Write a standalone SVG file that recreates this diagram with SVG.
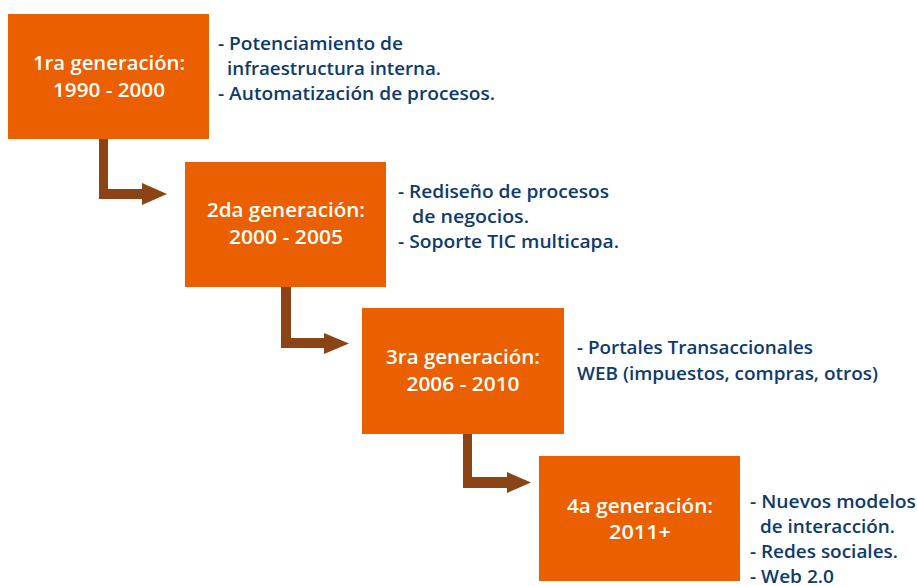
<svg xmlns="http://www.w3.org/2000/svg" width="917" height="586" viewBox="0 0 917 586">
<style>
.box{fill:#EA6000}
.bt{fill:#FFFFFF;font-family:"Open Sans","Liberation Sans",sans-serif;font-weight:600;font-size:19.5px;text-anchor:middle}
.dt{fill:#0E3A6E;font-family:"Open Sans","Liberation Sans",sans-serif;font-weight:600;font-size:18.5px}
.arr{fill:#8A4416}
</style>
<rect width="917" height="586" fill="#FFFFFF"/>
<g id="connectors">
<path class="arr" d="M99,139 H108 V189 H142 V183 L167,194 L142,205 V199 H99 Z"/>
<path class="arr" d="M281,286 H291 V338 H324 V333 L349,343.5 L324,354 V348 H281 Z"/>
<path class="arr" d="M463,433 H472 V477 H507 V472 L531,482.5 L507,493 V488 H463 Z"/>
</g>
<g id="node1">
<rect class="box" x="8" y="14" width="201" height="125"/>
<text class="bt" x="109" y="70" textLength="152" lengthAdjust="spacingAndGlyphs">1ra generación:</text>
<text class="bt" x="109" y="97" textLength="112" lengthAdjust="spacingAndGlyphs">1990 - 2000</text>
<text class="dt" x="218" y="50" textLength="185" lengthAdjust="spacingAndGlyphs">- Potenciamiento de</text>
<text class="dt" x="227" y="75" textLength="214" lengthAdjust="spacingAndGlyphs">infraestructura interna.</text>
<text class="dt" x="218" y="100" textLength="277" lengthAdjust="spacingAndGlyphs">- Automatización de procesos.</text>
</g>
<g id="node2">
<rect class="box" x="185" y="162" width="201" height="125"/>
<text class="bt" x="286" y="217" textLength="158" lengthAdjust="spacingAndGlyphs">2da generación:</text>
<text class="bt" x="286" y="244" textLength="114" lengthAdjust="spacingAndGlyphs">2000 - 2005</text>
<text class="dt" x="398" y="198" textLength="211" lengthAdjust="spacingAndGlyphs">- Rediseño de procesos</text>
<text class="dt" x="412" y="223" textLength="117" lengthAdjust="spacingAndGlyphs">de negocios.</text>
<text class="dt" x="398" y="248" textLength="221" lengthAdjust="spacingAndGlyphs">- Soporte TIC multicapa.</text>
</g>
<g id="node3">
<rect class="box" x="362" y="308" width="202" height="126"/>
<text class="bt" x="463" y="364" textLength="154" lengthAdjust="spacingAndGlyphs">3ra generación:</text>
<text class="bt" x="463" y="391" textLength="113" lengthAdjust="spacingAndGlyphs">2006 - 2010</text>
<text class="dt" x="577" y="354" textLength="236" lengthAdjust="spacingAndGlyphs">- Portales Transaccionales</text>
<text class="dt" x="577" y="380" textLength="301" lengthAdjust="spacingAndGlyphs">WEB (impuestos, compras, otros)</text>
</g>
<g id="node4">
<rect class="box" x="539" y="456" width="201" height="125"/>
<text class="bt" x="640" y="513" textLength="146" lengthAdjust="spacingAndGlyphs">4a generación:</text>
<text class="bt" x="640" y="539" textLength="62" lengthAdjust="spacingAndGlyphs">2011+</text>
<text class="dt" x="750" y="508" textLength="166" lengthAdjust="spacingAndGlyphs">- Nuevos modelos</text>
<text class="dt" x="760" y="533" textLength="135" lengthAdjust="spacingAndGlyphs">de interacción.</text>
<text class="dt" x="750" y="558" textLength="148" lengthAdjust="spacingAndGlyphs">- Redes sociales.</text>
<text class="dt" x="750" y="583" textLength="84" lengthAdjust="spacingAndGlyphs">- Web 2.0</text>
</g>
</svg>
